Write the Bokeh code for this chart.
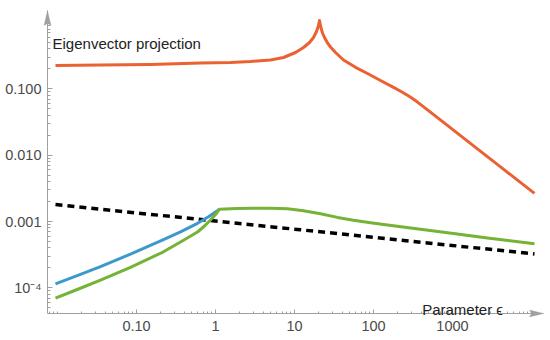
from bokeh.plotting import figure
from bokeh.models import FixedTicker, CustomJSTickFormatter, Label, PolyAnnotation
from bokeh.embed import file_html
from bokeh.resources import INLINE
import numpy as np

# ---------------- data ----------------
eps_orange = [0.00943, 0.03501, 0.1504, 0.6457, 1.5487, 2.7733, 4.968, 7.257, 10.30, 13.00,
              15.49, 17.40, 18.99, 20.13, 20.73, 21.34, 22.62, 23.97, 26.17, 28.56,
              33.04, 41.72, 59.17, 83.99, 122.7, 179.2, 226.2, 285.6, 360.6, 482.6,
              645.8, 1000, 1549, 2469, 4052, 6651, 10914]
proj_orange = [0.2254, 0.2294, 0.2333, 0.2458, 0.2501, 0.2590, 0.2729, 0.2976, 0.3540, 0.4210,
               0.5009, 0.5959, 0.7342, 0.9043, 1.0757, 0.8886, 0.6967, 0.5959, 0.4923, 0.4285,
               0.3540, 0.2729, 0.2117, 0.1708, 0.1338, 0.1057, 0.09075, 0.07681, 0.06322, 0.04824,
               0.03679, 0.02449, 0.01632, 0.01057, 0.006661, 0.004210, 0.002652]

eps_blue = [0.00943, 0.01844, 0.03501, 0.08393, 0.2197, 0.3606, 0.5918, 0.8153, 1.1235]
proj_blue = [1.149e-4, 1.554e-4, 2.081e-4, 3.224e-4, 5.333e-4, 6.992e-4, 9.394e-4, 1.1815e-3, 1.533e-3]

eps_green = [0.00943, 0.01844, 0.03501, 0.08393, 0.2197, 0.3606, 0.5918, 0.7256, 0.8645, 1.0,
             1.1235, 1.3384, 1.8448, 3.0269, 4.968, 8.154, 13.00, 21.34, 35.03, 55.84,
             91.62, 150.4, 393.4, 1030, 2773, 10914]
proj_green = [6.967e-5, 9.592e-5, 1.302e-4, 2.038e-4, 3.491e-4, 4.906e-4, 6.944e-4, 8.554e-4, 1.0535e-3, 1.2749e-3,
              1.533e-3, 1.549e-3, 1.571e-3, 1.587e-3, 1.582e-3, 1.554e-3, 1.455e-3, 1.306e-3, 1.153e-3, 1.0426e-3,
              9.559e-4, 8.856e-4, 7.654e-4, 6.592e-4, 5.618e-4, 4.610e-4]

eps_dash = [0.00943, 11.9, 10914]
proj_dash = [1.8e-3, 7.5e-4, 3.24e-4]

x_tick_vals = [0.1, 1, 10, 100, 1000]
x_tick_labels = ["0.10", "1", "10", "100", "1000"]
y_tick_vals = [1e-4, 1e-3, 1e-2, 1e-1]
y_tick_labels = ["10\u207b\u2074", "0.001", "0.010", "0.100"]

y_title = "Eigenvector projection"
x_title = "Parameter \u03f5"

# ---------------- layout ----------------
W, H = 550, 340
X_RANGE = (0.001899, 17400.0)      # whole canvas is the frame
Y_RANGE = (1.604e-5, 2.154)
X_AXIS_AT = 4.097e-5               # y value where the horizontal axis sits
Y_AXIS_AT = 0.007469               # x value where the vertical axis sits
X_TIP = 14190.0                    # end of horizontal axis (arrow tip)
Y_TIP = 1.522                      # end of vertical axis (arrow tip)

kx = W / (np.log10(X_RANGE[1]) - np.log10(X_RANGE[0]))
ky = H / (np.log10(Y_RANGE[1]) - np.log10(Y_RANGE[0]))

def shx(v, px):
    return v * 10 ** (px / kx)

def shy(v, px):
    return v * 10 ** (px / ky)

AX = "#A0A0A0"
FONT = "Liberation Sans"
TICK_COLOR = "#4a4a4a"

p = figure(width=W, height=H, x_axis_type="log", y_axis_type="log",
           x_range=X_RANGE, y_range=Y_RANGE,
           output_backend="svg", toolbar_location=None,
           min_border_left=0, min_border_right=0,
           min_border_top=0, min_border_bottom=0)
p.outline_line_color = None
p.xgrid.visible = False
p.ygrid.visible = False
p.background_fill_color = "white"
p.border_fill_color = "white"

def minors(lo, hi, majors):
    out = []
    for e in range(-6, 6):
        for m in range(1, 10):
            v = float(f"{m}e{e}")
            if lo <= v <= hi and all(abs(np.log10(v) - np.log10(t)) > 1e-9 for t in majors):
                out.append(v)
    return out

p.xaxis.ticker = FixedTicker(ticks=x_tick_vals, minor_ticks=minors(Y_AXIS_AT, X_TIP, x_tick_vals))
p.yaxis.ticker = FixedTicker(ticks=y_tick_vals, minor_ticks=minors(X_AXIS_AT, Y_TIP, y_tick_vals))
p.xaxis.formatter = CustomJSTickFormatter(code="return '';")
p.yaxis.formatter = CustomJSTickFormatter(code="return '';")

for ax in (p.xaxis[0], p.yaxis[0]):
    ax.axis_line_color = AX
    ax.axis_line_width = 1
    ax.major_tick_line_color = AX
    ax.minor_tick_line_color = AX
    ax.major_tick_out = 0
    ax.minor_tick_out = 0
    ax.major_label_standoff = 0
p.xaxis.fixed_location = X_AXIS_AT
p.yaxis.fixed_location = Y_AXIS_AT
p.xaxis.bounds = (Y_AXIS_AT, X_TIP)
p.yaxis.bounds = (X_AXIS_AT, Y_TIP)
p.xaxis.major_tick_in = 4
p.xaxis.minor_tick_in = 2
p.yaxis.major_tick_in = 5
p.yaxis.minor_tick_in = 3

# curves
p.line(eps_dash, proj_dash, line_color="black", line_width=3.5, line_dash="7 5")
p.line(eps_orange, proj_orange, line_color="#EB6131", line_width=3, line_join="round")
p.line(eps_blue, proj_blue, line_color="#3D99CC", line_width=3, line_join="round")
p.line(eps_green, proj_green, line_color="#74B336", line_width=3, line_join="round")

# axis arrowheads
p.add_layout(PolyAnnotation(
    xs=[X_TIP, shx(X_TIP, -14), shx(X_TIP, -12), shx(X_TIP, -14)],
    ys=[X_AXIS_AT, shy(X_AXIS_AT, 3.5), X_AXIS_AT, shy(X_AXIS_AT, -3.5)],
    fill_color=AX, fill_alpha=1, line_color=AX, line_width=1))
p.add_layout(PolyAnnotation(
    xs=[Y_AXIS_AT, shx(Y_AXIS_AT, -3.5), Y_AXIS_AT, shx(Y_AXIS_AT, 3.5)],
    ys=[Y_TIP, shy(Y_TIP, -15), shy(Y_TIP, -13), shy(Y_TIP, -15)],
    fill_color=AX, fill_alpha=1, line_color=AX, line_width=1))

# tick labels
for v, t in zip(x_tick_vals, x_tick_labels):
    p.add_layout(Label(x=v, y=shy(X_AXIS_AT, -7.2), text=t, text_font=FONT,
                       text_font_size="14.5px", text_color=TICK_COLOR,
                       text_align="center", text_baseline="top"))
for v, t in zip(y_tick_vals, y_tick_labels):
    p.add_layout(Label(x=shx(Y_AXIS_AT, -6), y=v, text=t, text_font=FONT,
                       text_font_size="14.5px", text_color=TICK_COLOR,
                       text_align="right", text_baseline="middle"))

# axis titles
p.add_layout(Label(x=0.00865, y=0.489, text=y_title, text_font=FONT,
                   text_font_size="15px", text_color="#222222",
                   text_align="left", text_baseline="alphabetic"))
p.add_layout(Label(x=413, y=4.66e-5, text=x_title, text_font=FONT,
                   text_font_size="15px", text_color="#222222",
                   text_align="left", text_baseline="alphabetic"))

open("out.html", "w").write(file_html(p, INLINE))
